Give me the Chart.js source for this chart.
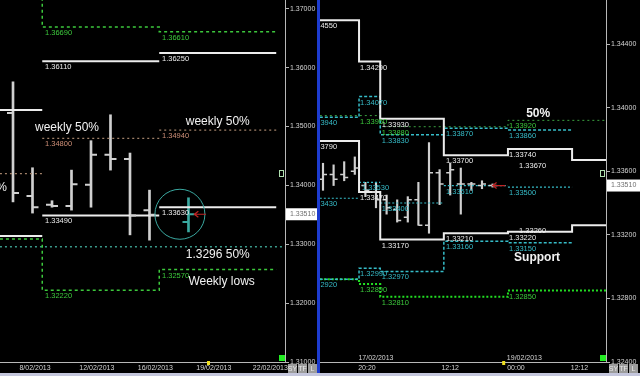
<!DOCTYPE html>
<html>
<head>
<meta charset="utf-8">
<title>EUR/USD weekly levels</title>
<script src="https://cdn.jsdelivr.net/npm/chart.js@4.4.1/dist/chart.umd.min.js"></script>
<style>
    html, body { margin: 0; padding: 0; background: #000; }
    #wrap { position: relative; width: 640px; height: 376px; overflow: hidden; background: #000; }
    #leftChart  { position: absolute; left: 0; top: 0; }
    #rightChart { position: absolute; left: 320px; top: 0; }
    #divider { position: absolute; left: 317px; top: 0; width: 3px; height: 373px; background: #1d3ccf; }
    #bottomBar { position: absolute; left: 0; top: 373px; width: 640px; height: 3px; background: #c4c6dc; }
</style>
</head>
<body>
<div id="wrap">
    <canvas id="leftChart" width="317" height="376"></canvas>
    <div id="divider"></div>
    <canvas id="rightChart" width="320" height="376"></canvas>
    <div id="bottomBar"></div>
</div>
<script>
// -------------------------------
// LEFT PANEL - DAILY BARS
// -------------------------------
const dayX     = [0, 1, 2, 3, 4, 5, 6, 7, 9];
const dayOpen  = [1.3523, 1.3382, 1.3367, 1.3365, 1.3401, 1.3452, 1.3445, 1.3358, 1.3338];
const dayHigh  = [1.3576, 1.3430, 1.3374, 1.3426, 1.3476, 1.3520, 1.3455, 1.3392, 1.3379];
const dayLow   = [1.3372, 1.3353, 1.3363, 1.3358, 1.3363, 1.3426, 1.3316, 1.3307, 1.3321];
const dayClose = [1.3387, 1.3363, 1.3365, 1.3402, 1.3452, 1.3445, 1.3349, 1.3350, 1.3351];

const dayTickPos    = [1.13, 4.3, 7.3, 10.3, 13.2];
const dayTickLabels = ["8/02/2013", "12/02/2013", "16/02/2013", "19/02/2013", "22/02/2013"];
const leftYTicks    = [1.31, 1.32, 1.33, 1.34, 1.35, 1.36, 1.37];
const leftTodayX    = 10;

// weekly levels: one value per week between the breaks
const weekBreaks = [-0.67, 1.5, 7.5, 13.5];
const weekHighs  = [1.3800, 1.3669, 1.3661];   // first one is above the chart
const weekTop    = [1.3528, 1.3611, 1.3625];
const weekMid50  = [1.3420, 1.3480, 1.3494];
const weekBottom = [1.3314, 1.3349, 1.3363];
const weekLows   = [1.3309, 1.3222, 1.3257];
const weekLabelX = [null, 1.64, 7.64];
const fiftyLevel = 1.3296;

// -------------------------------
// RIGHT PANEL - INTRADAY BARS
// -------------------------------
const barX     = [0, 1, 2, 3, 4, 5, 6, 7, 8, 9, 10, 11, 12, 13, 14, 15, 16];
const barOpen  = [1.3355, 1.3358, 1.3358, 1.3360, 1.3351, 1.3347, 1.3342, 1.3336, 1.3331, 1.3342, 1.3326, 1.3359, 1.3359, 1.3352, 1.3352, 1.3351, 1.3351];
const barHigh  = [1.3365, 1.3364, 1.3366, 1.3369, 1.3353, 1.3353, 1.3345, 1.3342, 1.3344, 1.3353, 1.3378, 1.3361, 1.3365, 1.3362, 1.3353, 1.3354, 1.3352];
const barLow   = [1.3348, 1.3351, 1.3354, 1.3358, 1.3344, 1.3337, 1.3333, 1.3328, 1.3328, 1.3326, 1.3321, 1.3339, 1.3345, 1.3333, 1.3348, 1.3349, 1.3350];
const barClose = [1.3358, 1.3355, 1.3356, 1.3362, 1.3348, 1.3342, 1.3337, 1.3329, 1.3342, 1.3326, 1.3359, 1.3352, 1.3361, 1.3352, 1.3352, 1.3352, 1.3351];

const timeTickPos    = [4.15, 12.0, 18.2, 24.2];
const timeTickLabels = ["20:20", "12:12", "00:00", "12:12"];
const dateLabelPos   = [5.0, 19.0];
const dateLabels     = ["17/02/2013", "19/02/2013"];
const rightYTicks    = [1.324, 1.328, 1.332, 1.336, 1.340, 1.344];
const rightTodayX    = 17;

const dayBreaks   = [-0.3, 3.4, 5.4, 11.4, 17.45, 23.5, 26.7];
const dayHighs    = [1.3455, 1.3429, 1.3393, 1.3370, 1.3374, 1.3367];
const dayLows     = [1.3379, 1.3347, 1.3317, 1.3321, 1.3322, 1.3326];
const dayLabelX   = [-1.23, 3.5, 5.55, 11.6, 17.55, 18.5];

const cyanHigh    = [1.3394, 1.3407, 1.3383, 1.3387, 1.3386];
const cyanMid     = [1.3343, 1.3353, 1.3340, 1.3351, 1.3350];
const cyanLow     = [1.3292, 1.3299, 1.3297, 1.3316, 1.3315];
const cyanLabelX  = [-1.23, 3.5, 5.55, 11.6, 17.55];
const cyanMidLabelX = [-1.23, 3.68, 5.55, 11.6, 17.55];

const greenBreaks = [-0.3, 3.4, 5.4, 17.45, 26.7];
const greenHigh   = [1.3395, 1.3395, 1.3388, 1.3392];
const greenLow    = [1.3292, 1.3289, 1.3281, 1.3285];
const greenLabelX = [null, 3.5, 5.55, 17.55];

// -------------------------------
// STYLES
// -------------------------------
const FONT = '"Liberation Sans", Arial, sans-serif';
const C_WHITE = "#ececec";
const C_GREEN = "#3cc83c";
const C_BROWN = "#a08068";
const C_BROWN_TXT = "#d09078";
const C_TEAL  = "#3a9c8c";
const C_CYAN  = "#36bcc8";
const C_BAR   = "#d0d0d0";
const C_NOW   = "#3aa9a0";
const C_AXIS  = "#b8b8b8";
const C_TICK  = "#d4d4d4";

Chart.defaults.font.family = FONT;

// -------------------------------
// HELPERS
// -------------------------------
function stepPoints(breaks, values) {
    const pts = [];
    for (let i = 0; i < values.length; i++) {
        pts.push({ x: breaks[i], y: values[i] });
        pts.push({ x: breaks[i + 1], y: values[i] });
    }
    return pts;
}

function segPoints(breaks, values) {
    const pts = [];
    for (let i = 0; i < values.length; i++) {
        if (i > 0) pts.push({ x: breaks[i], y: null });
        pts.push({ x: breaks[i], y: values[i] });
        pts.push({ x: breaks[i + 1], y: values[i] });
    }
    return pts;
}

function levelLine(points, color, width, dash) {
    return {
        type: "line",
        data: points,
        borderColor: color,
        borderWidth: width,
        borderDash: dash || [],
        pointRadius: 0,
        fill: false,
        tension: 0,
        spanGaps: false
    };
}

function rangeBars(xs, lows, highs, colors, thickness) {
    return {
        type: "bar",
        data: xs.map((x, i) => ({ x: x, y: [lows[i], highs[i]] })),
        backgroundColor: colors,
        barThickness: thickness,
        grouped: false
    };
}

function drawOhlcTicks(chart, xs, opens, closes, colors, len, width) {
    const ctx = chart.ctx, sx = chart.scales.x, sy = chart.scales.y;
    ctx.lineWidth = width;
    xs.forEach((x, i) => {
        const px = sx.getPixelForValue(x);
        ctx.strokeStyle = colors[i];
        ctx.beginPath();
        ctx.moveTo(px - len, sy.getPixelForValue(opens[i]));
        ctx.lineTo(px, sy.getPixelForValue(opens[i]));
        ctx.moveTo(px, sy.getPixelForValue(closes[i]));
        ctx.lineTo(px + len, sy.getPixelForValue(closes[i]));
        ctx.stroke();
    });
}

function drawLevelLabels(chart, labelXs, values, color) {
    const ctx = chart.ctx, sx = chart.scales.x, sy = chart.scales.y;
    ctx.fillStyle = color;
    ctx.font = "7.5px " + FONT;
    ctx.textAlign = "left";
    ctx.textBaseline = "middle";
    values.forEach((v, i) => {
        if (labelXs[i] === null) return;
        ctx.fillText(v.toFixed(5), sx.getPixelForValue(labelXs[i]), sy.getPixelForValue(v) + 6);
    });
}

function drawAxisLabels(chart, positions, labels, y) {
    const ctx = chart.ctx, sx = chart.scales.x;
    ctx.fillStyle = C_TICK;
    ctx.font = "7px " + FONT;
    ctx.textAlign = "center";
    ctx.textBaseline = "middle";
    positions.forEach((p, i) => ctx.fillText(labels[i], sx.getPixelForValue(p), y));
}

function drawText(chart, text, xv, yv, font, align) {
    const ctx = chart.ctx;
    ctx.fillStyle = "#f2f2f2";
    ctx.font = font;
    ctx.textAlign = align || "center";
    ctx.textBaseline = "middle";
    ctx.fillText(text, chart.scales.x.getPixelForValue(xv), chart.scales.y.getPixelForValue(yv));
}

function drawArrow(chart, xTail, xTip, yv) {
    const ctx = chart.ctx;
    const x0 = chart.scales.x.getPixelForValue(xTail);
    const x1 = chart.scales.x.getPixelForValue(xTip);
    const y = chart.scales.y.getPixelForValue(yv);
    ctx.strokeStyle = "#c02424";
    ctx.lineWidth = 1.2;
    ctx.beginPath();
    ctx.moveTo(x0, y);
    ctx.lineTo(x1, y);
    ctx.moveTo(x1 + 4, y - 3);
    ctx.lineTo(x1, y);
    ctx.lineTo(x1 + 4, y + 3);
    ctx.stroke();
}

function clipArea(ctx, a) {
    ctx.beginPath();
    ctx.rect(a.left, a.top, a.right - a.left, a.bottom - a.top);
    ctx.clip();
}

function drawPriceTag(chart, price) {
    const ctx = chart.ctx, a = chart.chartArea;
    const y = chart.scales.y.getPixelForValue(price);
    ctx.fillStyle = "#ffffff";
    ctx.fillRect(a.right + 1, y - 6, chart.width - a.right - 1, 12);
    ctx.fillStyle = "#707070";
    ctx.font = "7px " + FONT;
    ctx.textAlign = "left";
    ctx.textBaseline = "middle";
    ctx.fillText(price.toFixed(5), a.right + 5, y);
}

function drawMarkers(chart, todayX) {
    const ctx = chart.ctx, a = chart.chartArea;
    // green box in the corner
    ctx.fillStyle = "#22ee22";
    ctx.fillRect(a.right - 6, a.bottom - 7, 6, 6);
    // small tag on the axis
    ctx.strokeStyle = "#b0e0b0";
    ctx.lineWidth = 1;
    ctx.strokeRect(a.right - 5.5, 170.5, 4, 6);
    // yellow "today" marker
    ctx.fillStyle = "#f0e020";
    ctx.fillRect(chart.scales.x.getPixelForValue(todayX) - 1, a.bottom - 1, 3, 4);
}

function drawButtons(chart) {
    const ctx = chart.ctx, a = chart.chartArea;
    const names = ["SY", "TF", "L"];
    ctx.font = "7px " + FONT;
    ctx.textAlign = "center";
    ctx.textBaseline = "middle";
    names.forEach((n, i) => {
        const x = a.right + 3 + i * 10;
        ctx.fillStyle = "#9c9c9c";
        ctx.fillRect(x, 364, 9, 10);
        ctx.fillStyle = "#e8e8e8";
        ctx.fillText(n, x + 4.5, 369.5);
    });
}

function yAxis(min, max, tickList, width) {
    return {
        position: "right",
        min: min,
        max: max,
        afterBuildTicks: s => { s.ticks = tickList.map(v => ({ value: v })); },
        afterFit: s => { s.width = width; s.paddingTop = 0; s.paddingBottom = 0; },
        ticks: {
            color: C_TICK,
            font: { size: 7 },
            padding: 1,
            callback: v => Number(v).toFixed(5)
        },
        grid: { drawOnChartArea: false, drawTicks: true, tickLength: 4, color: C_AXIS },
        border: { display: true, color: C_AXIS, width: 1 }
    };
}

// the x axis only gives the scale and the base line; its labels are placed by the overlay
function xAxis(min, max) {
    return {
        type: "linear",
        min: min,
        max: max,
        offset: false,
        afterFit: s => { s.height = 14; s.paddingLeft = 0; s.paddingRight = 0; },
        ticks: { display: false },
        grid: { display: false },
        border: { display: true, color: C_AXIS, width: 1 }
    };
}

const baseOptions = {
    responsive: false,
    animation: false,
    events: [],
    layout: { padding: 0 },
    plugins: { legend: { display: false }, tooltip: { enabled: false } }
};

// -------------------------------
// LEFT CHART
// -------------------------------
const leftOverlay = {
    id: "leftOverlay",
    afterDatasetsDraw(chart) {
        const ctx = chart.ctx, a = chart.chartArea;
        ctx.save();
        clipArea(ctx, a);
        const colors = dayX.map((_, i) => i === dayX.length - 1 ? C_NOW : C_BAR);
        drawOhlcTicks(chart, dayX, dayOpen, dayClose, colors, 6, 2);

        drawLevelLabels(chart, weekLabelX, weekHighs, C_GREEN);
        drawLevelLabels(chart, weekLabelX, weekTop, C_WHITE);
        drawLevelLabels(chart, weekLabelX, weekMid50, C_BROWN_TXT);
        drawLevelLabels(chart, weekLabelX, weekBottom, C_WHITE);
        drawLevelLabels(chart, weekLabelX, weekLows, C_GREEN);

        drawText(chart, "weekly 50%", 2.77, 1.34975, "12px " + FONT);
        drawText(chart, "weekly 50%", 10.5, 1.35077, "12px " + FONT);
        drawText(chart, "1.3296 50%", 10.5, 1.32818, "12px " + FONT);
        drawText(chart, "Weekly lows", 10.7, 1.32359, "12px " + FONT);
        drawText(chart, "50%", -0.31, 1.33956, "12px " + FONT, "right");

        // circle round the current bar
        ctx.strokeStyle = "#3aa8a0";
        ctx.lineWidth = 1;
        ctx.beginPath();
        ctx.arc(chart.scales.x.getPixelForValue(8.56), chart.scales.y.getPixelForValue(1.3351), 25, 0, Math.PI * 2);
        ctx.stroke();
        drawArrow(chart, 9.9, 9.3, dayClose[dayClose.length - 1]);
        ctx.restore();

        drawAxisLabels(chart, dayTickPos, dayTickLabels, a.bottom + 6);
        drawMarkers(chart, leftTodayX);
        drawPriceTag(chart, dayClose[dayClose.length - 1]);
        drawButtons(chart);
    }
};

new Chart(document.getElementById("leftChart"), {
    type: "bar",
    data: {
        datasets: [
            levelLine(stepPoints(weekBreaks, weekHighs), C_GREEN, 1.5, [3, 3]),
            levelLine(segPoints(weekBreaks, weekTop), C_WHITE, 2),
            levelLine(segPoints(weekBreaks, weekMid50), C_BROWN, 1.3, [2, 3]),
            levelLine(segPoints(weekBreaks, weekBottom), C_WHITE, 2),
            levelLine(stepPoints(weekBreaks, weekLows), C_GREEN, 1.5, [3, 3]),
            levelLine([{ x: -0.67, y: fiftyLevel }, { x: 13.95, y: fiftyLevel }], C_TEAL, 1.5, [2, 3]),
            rangeBars(dayX, dayLow, dayHigh, dayX.map((_, i) => i === dayX.length - 1 ? C_NOW : C_BAR), 2)
        ]
    },
    options: Object.assign({}, baseOptions, {
        scales: {
            x: xAxis(-0.667, 13.95),
            y: yAxis(1.31, 1.3715, leftYTicks, 32)
        }
    }),
    plugins: [leftOverlay]
});

// -------------------------------
// RIGHT CHART
// -------------------------------
const rightOverlay = {
    id: "rightOverlay",
    afterDatasetsDraw(chart) {
        const ctx = chart.ctx, a = chart.chartArea;
        ctx.save();
        clipArea(ctx, a);
        drawOhlcTicks(chart, barX, barOpen, barClose, barX.map(() => C_BAR), 4, 1.5);

        drawLevelLabels(chart, dayLabelX, dayHighs, C_WHITE);
        drawLevelLabels(chart, dayLabelX, dayLows, C_WHITE);
        drawLevelLabels(chart, cyanLabelX, cyanHigh, C_CYAN);
        drawLevelLabels(chart, cyanMidLabelX, cyanMid, C_CYAN);
        drawLevelLabels(chart, cyanLabelX, cyanLow, C_CYAN);
        drawLevelLabels(chart, greenLabelX, greenHigh, C_GREEN);
        drawLevelLabels(chart, greenLabelX, greenLow, C_GREEN);

        drawText(chart, "50%", 20.3, 1.3396, "bold 12px " + FONT);
        drawText(chart, "Support", 20.2, 1.33054, "bold 12px " + FONT);
        drawArrow(chart, 17.2, 16.0, barClose[barClose.length - 1]);

        // date row sits just above the time axis
        drawAxisLabels(chart, dateLabelPos, dateLabels, a.bottom - 4);
        ctx.restore();

        drawAxisLabels(chart, timeTickPos, timeTickLabels, a.bottom + 6);
        drawMarkers(chart, rightTodayX);
        drawPriceTag(chart, barClose[barClose.length - 1]);
        drawButtons(chart);
    }
};

new Chart(document.getElementById("rightChart"), {
    type: "bar",
    data: {
        datasets: [
            levelLine(stepPoints(dayBreaks, dayHighs), C_WHITE, 2),
            levelLine(stepPoints(dayBreaks, dayLows), C_WHITE, 2),
            levelLine(stepPoints(dayBreaks, cyanHigh), C_CYAN, 1.5, [3, 2]),
            levelLine(segPoints(dayBreaks, cyanMid), C_CYAN, 1.2, [2, 2]),
            levelLine(stepPoints(dayBreaks, cyanLow), C_CYAN, 1.5, [3, 2]),
            levelLine(stepPoints(greenBreaks, greenHigh), "#3aa040", 1, [2, 3]),
            levelLine(stepPoints(greenBreaks, greenLow), "#22dd22", 2, [2, 2]),
            rangeBars(barX, barLow, barHigh, C_BAR, 1.5)
        ]
    },
    options: Object.assign({}, baseOptions, {
        scales: {
            x: xAxis(-0.283, 26.7),
            y: yAxis(1.324, 1.34677, rightYTicks, 34)
        }
    }),
    plugins: [rightOverlay]
});
</script>
</body>
</html>
